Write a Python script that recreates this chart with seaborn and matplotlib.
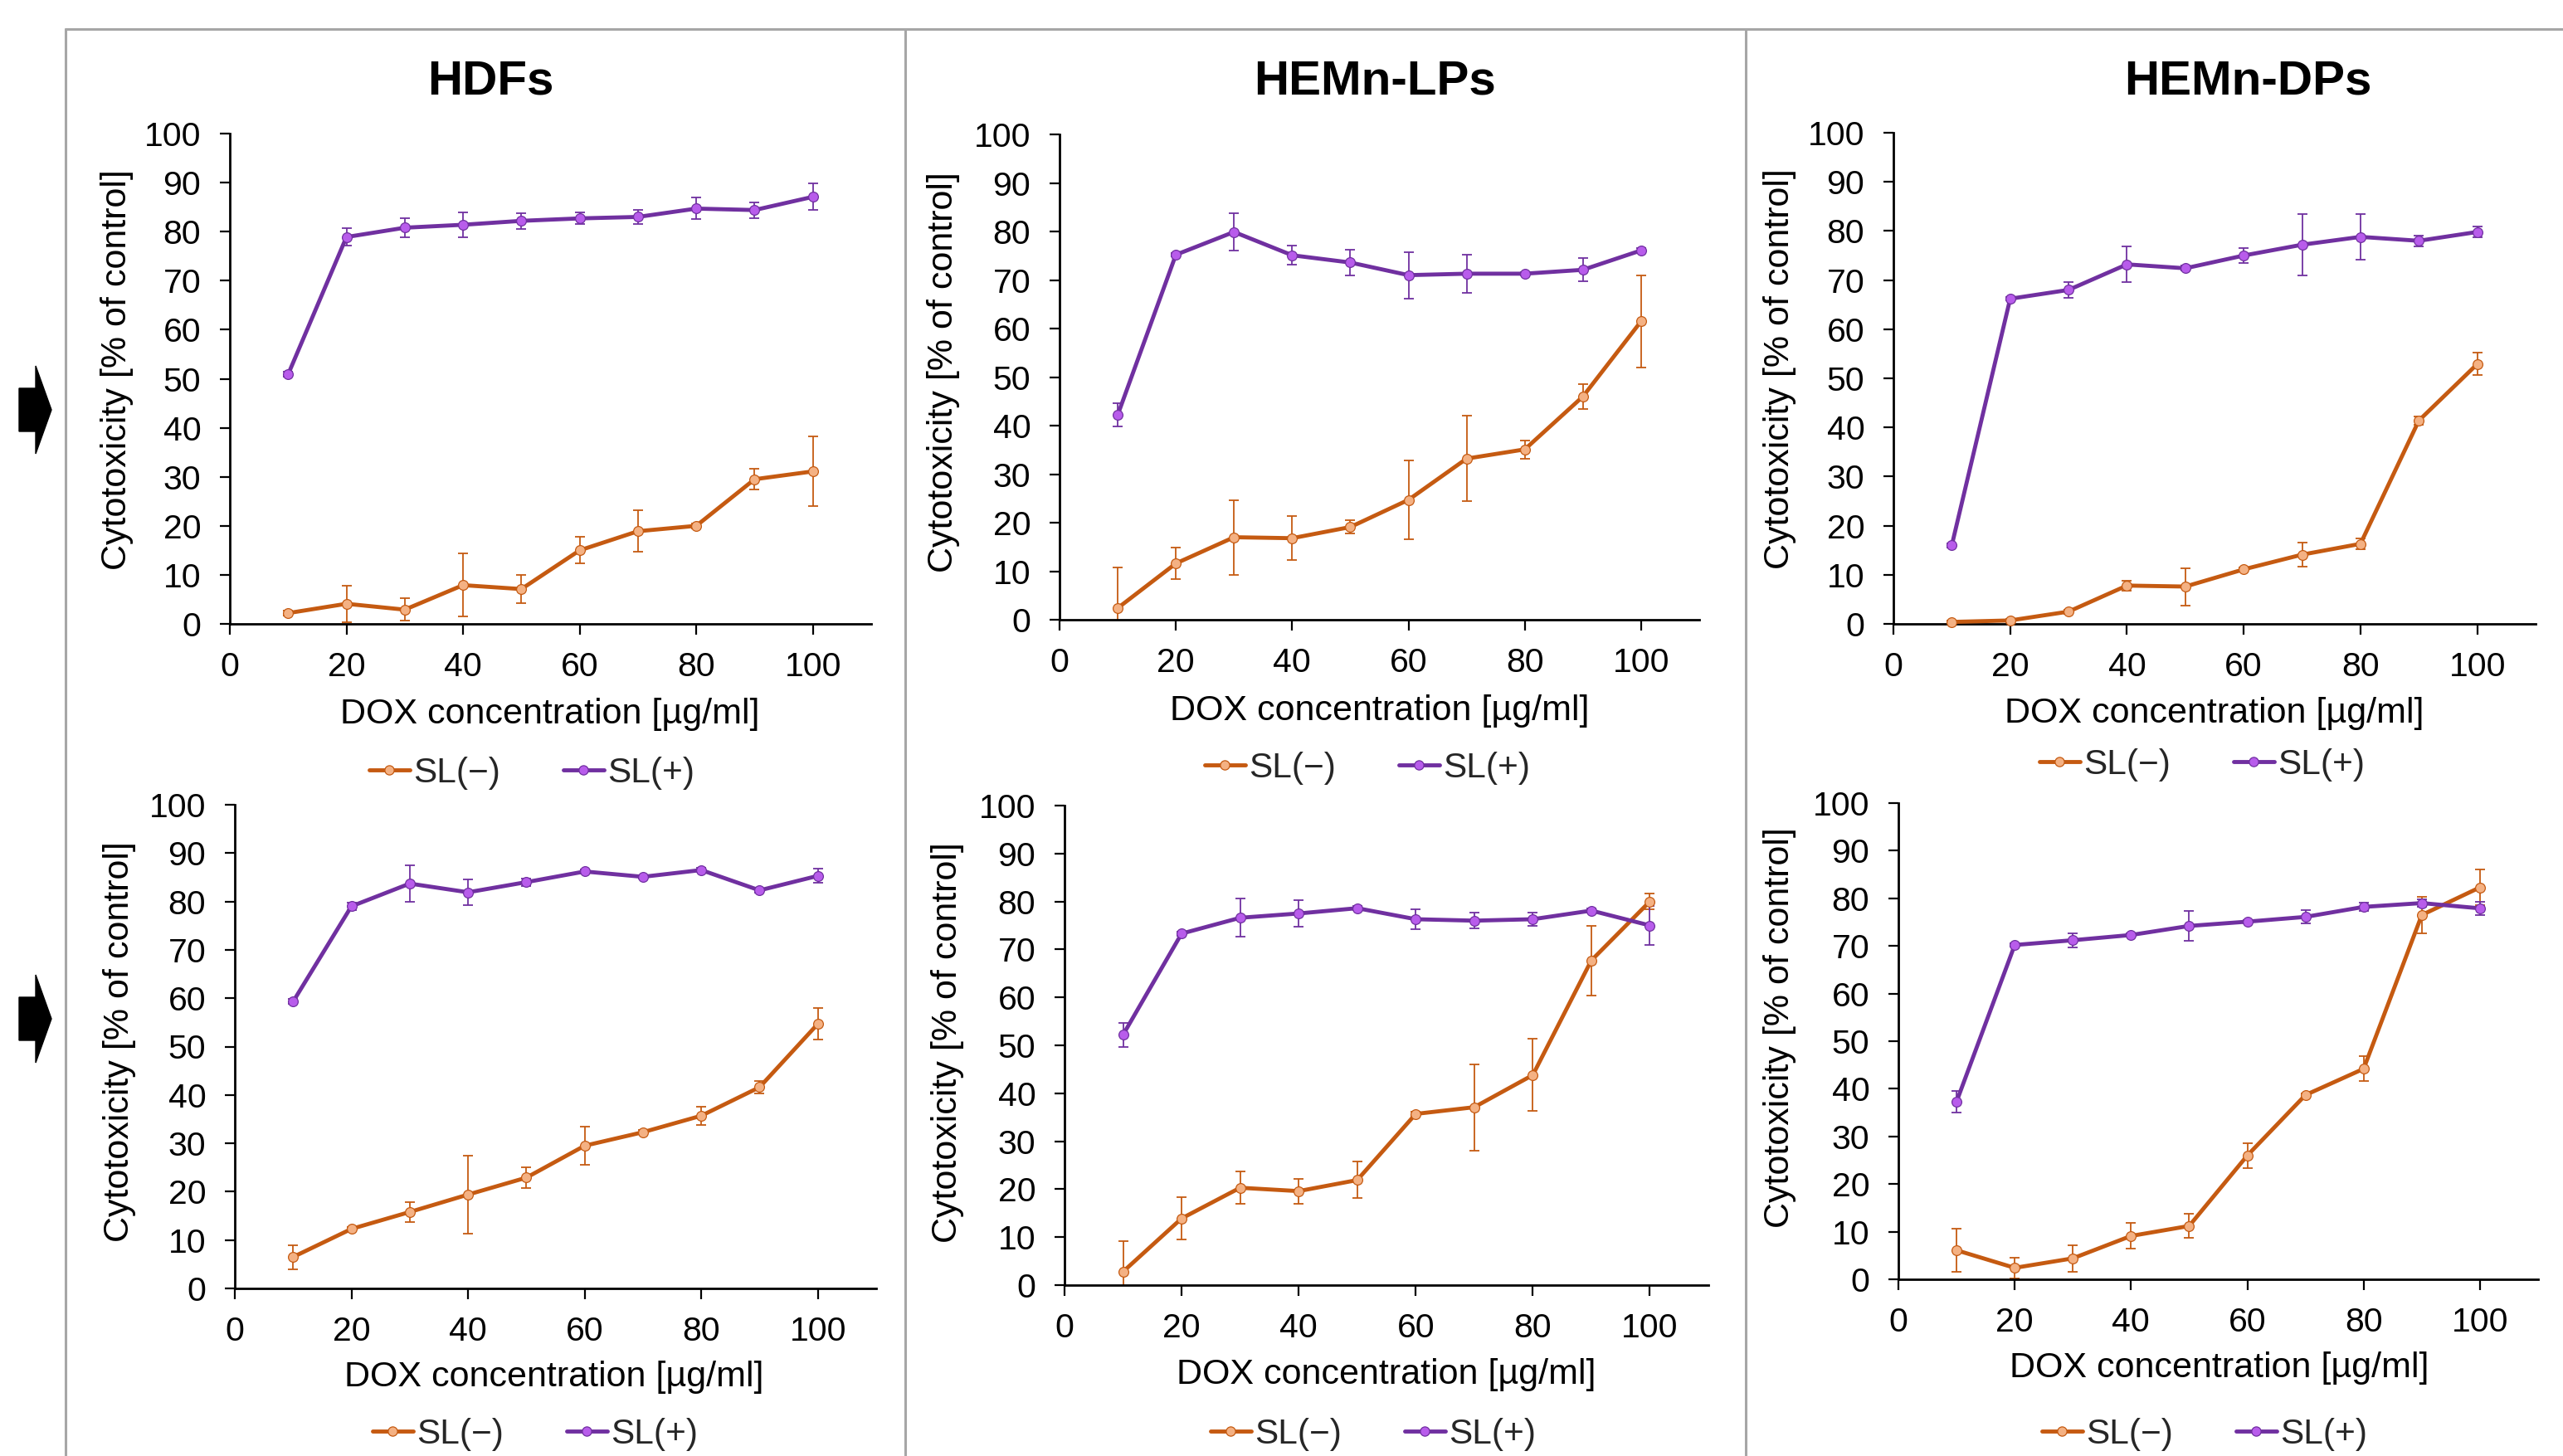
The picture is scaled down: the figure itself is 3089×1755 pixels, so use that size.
import numpy as np
import pandas as pd
import matplotlib
matplotlib.use("Agg")
import matplotlib.pyplot as plt
import seaborn as sns
from matplotlib.patches import Polygon
from matplotlib.lines import Line2D

# ---------------- data ----------------
dox = [10, 20, 30, 40, 50, 60, 70, 80, 90, 100]
cell_lines = ["HDFs", "HEMn-LPs", "HEMn-DPs"]
series_labels = ["SL(\u2212)", "SL(+)"]

# top row
hdf_top_minus = [2.2, 4.1, 2.9, 7.9, 7.1, 15.0, 18.9, 20.0, 29.5, 31.1]
hdf_top_minus_err = [0.5, 3.7, 2.3, 6.4, 2.8, 2.7, 4.2, 0.5, 2.1, 7.1]
hdf_top_plus = [50.9, 78.9, 80.8, 81.4, 82.2, 82.7, 83.0, 84.7, 84.4, 87.1]
hdf_top_plus_err = [0.5, 1.8, 1.9, 2.6, 1.6, 1.2, 1.5, 2.2, 1.6, 2.7]

lp_top_minus = [2.4, 11.6, 17.0, 16.8, 19.1, 24.7, 33.2, 35.1, 46.0, 61.5]
lp_top_minus_err = [8.3, 3.2, 7.7, 4.5, 1.4, 8.1, 8.8, 1.9, 2.6, 9.5]
lp_top_plus = [42.2, 75.2, 79.9, 75.1, 73.6, 71.0, 71.3, 71.3, 72.1, 76.1]
lp_top_plus_err = [2.4, 0.4, 3.8, 2.0, 2.7, 4.8, 3.9, 0.4, 2.4, 0.4]

dp_top_minus = [0.4, 0.7, 2.5, 7.8, 7.6, 11.1, 14.1, 16.3, 41.4, 52.9]
dp_top_minus_err = [0.3, 0.3, 0.4, 1.0, 3.8, 0.4, 2.5, 1.1, 0.8, 2.3]
dp_top_plus = [16.0, 66.2, 68.0, 73.2, 72.4, 75.0, 77.2, 78.8, 78.0, 79.8]
dp_top_plus_err = [0.4, 0.4, 1.6, 3.6, 0.5, 1.5, 6.2, 4.7, 1.1, 1.1]

# bottom row
hdf_bot_minus = [6.5, 12.3, 15.8, 19.4, 22.9, 29.5, 32.3, 35.7, 41.6, 54.7]
hdf_bot_minus_err = [2.5, 0.4, 2.0, 8.1, 2.2, 4.0, 0.4, 1.9, 1.3, 3.2]
hdf_bot_plus = [59.3, 79.0, 83.7, 81.9, 84.0, 86.2, 85.1, 86.5, 82.3, 85.3]
hdf_bot_plus_err = [0.5, 0.8, 3.7, 2.7, 0.8, 0.4, 0.4, 0.4, 0.4, 1.5]

lp_bot_minus = [2.8, 13.9, 20.3, 19.6, 21.9, 35.7, 37.1, 43.8, 67.7, 80.0]
lp_bot_minus_err = [6.3, 4.4, 3.4, 2.6, 3.8, 0.4, 9.0, 7.5, 7.3, 1.6]
lp_bot_plus = [52.2, 73.3, 76.6, 77.5, 78.6, 76.3, 76.0, 76.3, 78.1, 75.0]
lp_bot_plus_err = [2.5, 0.4, 4.0, 2.8, 0.4, 2.0, 1.6, 1.3, 0.4, 4.0]

dp_bot_minus = [6.1, 2.4, 4.4, 9.1, 11.2, 26.0, 38.7, 44.2, 76.5, 82.3]
dp_bot_minus_err = [4.6, 2.2, 2.8, 2.7, 2.5, 2.6, 0.4, 2.6, 3.8, 3.7]
dp_bot_plus = [37.3, 70.2, 71.2, 72.3, 74.2, 75.1, 76.1, 78.2, 79.0, 77.9]
dp_bot_plus_err = [2.3, 0.4, 1.5, 0.4, 3.2, 0.4, 1.4, 0.9, 0.8, 1.4]

x_ticks = [0, 20, 40, 60, 80, 100]
y_ticks = [0, 10, 20, 30, 40, 50, 60, 70, 80, 90, 100]
xlabel = "DOX concentration [\u00b5g/ml]"
ylabel = "Cytotoxicity [% of control]"

# ---------------- style ----------------
W, H, DPI = 3089, 1755, 100
sns.set_theme(style="white")
plt.rcParams['font.family'] = ['Liberation Sans', 'DejaVu Sans']

ORANGE = "#C55A11"
ORANGE_FILL = "#F4B183"
PURPLE = "#7030A0"
PURPLE_FILL = "#B85CEB"
FRAME = "#A6A6A6"

fig = plt.figure(figsize=(W / DPI, H / DPI), dpi=DPI)
fig.patch.set_facecolor("white")


def fx(px):
    return px / W


def fy(py):
    return 1 - py / H


# (left, top, right, bottom) in pixels
boxes = [
    [(277, 161, 1050, 752), (1277, 162, 2048, 747), (2282, 160, 3056, 752)],
    [(283, 970, 1056, 1553), (1283, 971, 2059, 1549), (2288, 968, 3059, 1542)],
]
titles_pos = [(591, 99), (1657, 99), (2709, 99)]
xlabel_pos = [
    [(663, 861), (1663, 857), (2669, 860)],
    [(668, 1660), (1671, 1657), (2675, 1649)],
]
ylabel_pos = [
    [(141, 446), (1137, 449), (2145, 445)],
    [(144, 1256), (1142, 1257), (2145, 1239)],
]
legend_pos = [
    [(641, 932), (1648, 926), (2654, 922)],
    [(645, 1729), (1655, 1729), (2657, 1729)],
]

data = [
    [(hdf_top_minus, hdf_top_minus_err, hdf_top_plus, hdf_top_plus_err),
     (lp_top_minus, lp_top_minus_err, lp_top_plus, lp_top_plus_err),
     (dp_top_minus, dp_top_minus_err, dp_top_plus, dp_top_plus_err)],
    [(hdf_bot_minus, hdf_bot_minus_err, hdf_bot_plus, hdf_bot_plus_err),
     (lp_bot_minus, lp_bot_minus_err, lp_bot_plus, lp_bot_plus_err),
     (dp_bot_minus, dp_bot_minus_err, dp_bot_plus, dp_bot_plus_err)],
]

for r in range(2):
    for c in range(3):
        l, t, rr, b = boxes[r][c]
        ax = fig.add_axes([fx(l), fy(b), (rr - l) / W, (b - t) / H])
        ax.set_facecolor("white")
        mn, mn_e, pl, pl_e = data[r][c]
        for vals, errs, col, fill, lab in [
            (mn, mn_e, ORANGE, ORANGE_FILL, series_labels[0]),
            (pl, pl_e, PURPLE, PURPLE_FILL, series_labels[1]),
        ]:
            ax.errorbar(dox, vals, yerr=errs, fmt='none', ecolor=col,
                        elinewidth=1.3, capsize=4.5, capthick=1.3, zorder=2)
            sns.lineplot(x=dox, y=vals, ax=ax, color=col, linewidth=3.5,
                         marker='o', markersize=8.5, markerfacecolor=fill,
                         markeredgecolor=col, markeredgewidth=0.9,
                         label=lab, zorder=3, clip_on=False)
        ax.set_xlim(0, 110)
        ax.set_ylim(0, 100)
        ax.set_xticks(x_ticks)
        ax.set_yticks(y_ticks)
        for side in ["top", "right"]:
            ax.spines[side].set_visible(False)
        for side in ["left", "bottom"]:
            ax.spines[side].set_color("black")
            ax.spines[side].set_linewidth(2.0)
        ax.tick_params(axis='both', which='major', bottom=True, left=True,
                       direction='out', length=9, width=1.6, color='black',
                       labelsize=29.5, labelcolor='black')
        ax.tick_params(axis='x', pad=15)
        ax.tick_params(axis='y', pad=16)
        ax.grid(False)

        ax.set_xlabel(xlabel, fontsize=31, color='black')
        ax.xaxis.set_label_coords(fx(xlabel_pos[r][c][0]), fy(xlabel_pos[r][c][1]),
                                  transform=fig.transFigure)
        ax.xaxis.label.set_va('center')
        ax.set_ylabel(ylabel, fontsize=31, color='black')
        ax.yaxis.set_label_coords(fx(ylabel_pos[r][c][0]), fy(ylabel_pos[r][c][1]),
                                  transform=fig.transFigure)
        ax.yaxis.label.set_va('center')
        ax.yaxis.label.set_ha('center')

        handles, labels = ax.get_legend_handles_labels()
        ax.legend(handles, labels, loc='center',
                  bbox_to_anchor=(fx(legend_pos[r][c][0]), fy(legend_pos[r][c][1])),
                  bbox_transform=fig.transFigure, ncol=2, frameon=False,
                  fontsize=30.5, handlelength=1.15, handletextpad=0.1,
                  columnspacing=1.8, borderpad=0, borderaxespad=0,
                  markerscale=0.95)

        if r == 0:
            tx, ty = titles_pos[c]
            fig.text(fx(tx), fy(ty), cell_lines[c], ha='center', va='center',
                     fontsize=42, fontweight='bold', color='black')

# frame lines
for xv in [79, 1091, 2104]:
    fig.add_artist(Line2D([fx(xv), fx(xv)], [fy(35), 0], transform=fig.transFigure,
                          color=FRAME, linewidth=2.2))
fig.add_artist(Line2D([fx(79), 1], [fy(35), fy(35)], transform=fig.transFigure,
                      color=FRAME, linewidth=2.2))

# arrows
for cy in [494, 1228]:
    pts = [(23, cy - 26), (43, cy - 26), (43, cy - 53), (62, cy), (43, cy + 53),
           (43, cy + 26), (23, cy + 26)]
    fig.add_artist(Polygon([(fx(px), fy(py)) for px, py in pts], closed=True,
                           transform=fig.transFigure, facecolor='black',
                           edgecolor='black'))

fig.savefig("out.png", dpi=DPI, facecolor="white")
